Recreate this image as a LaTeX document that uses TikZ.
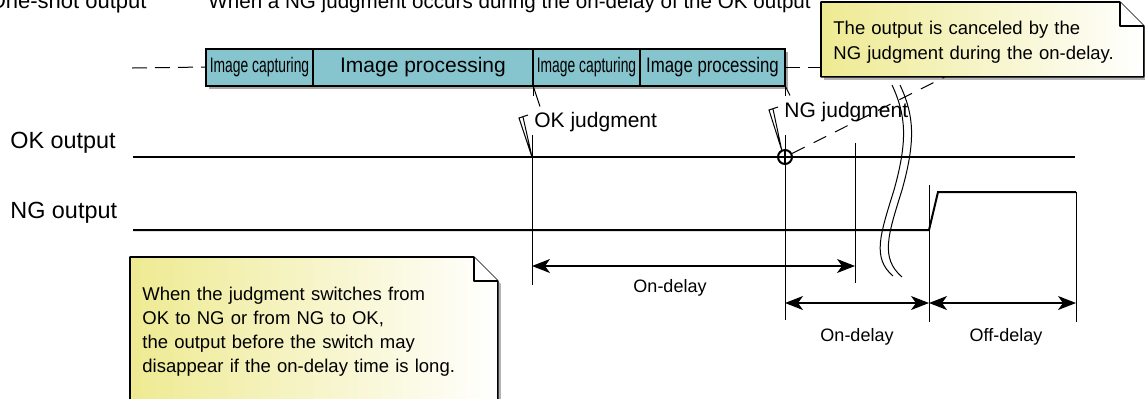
\documentclass[tikz,border=0pt]{standalone}
\usepackage{fontspec}
\setmainfont{Liberation Sans}
\newfontfamily\condfont[FakeStretch=0.66]{Liberation Sans}
\newfontfamily\semicondfont[FakeStretch=0.8]{Liberation Sans}
\usepackage{xcolor}
\usepackage{tikz}
\usetikzlibrary{positioning, arrows.meta, shadows, backgrounds}

\definecolor{procteal}{RGB}{134,196,206}
\definecolor{noteyellow}{RGB}{238,234,146}

\newcommand{\dognote}[2][0pt]{%
  \begin{scope}[on background layer]
    \path (#2.north west) coordinate (#2-nw)
          ([xshift=-12pt]#2.north east) coordinate (#2-fa)
          ([yshift=-12pt]#2.north east) coordinate (#2-fb)
          ([xshift=-12pt,yshift=-12pt]#2.north east) coordinate (#2-fc)
          ([yshift=-#1]#2.south east) coordinate (#2-se)
          ([yshift=-#1]#2.south west) coordinate (#2-sw);
    \fill[black!30] ([shift={(1.5pt,-1.5pt)}]#2-nw) -- ([shift={(1.5pt,-1.5pt)}]#2-fa)
          -- ([shift={(1.5pt,-1.5pt)}]#2-fb) -- ([shift={(1.5pt,-1.5pt)}]#2-se)
          -- ([shift={(1.5pt,-1.5pt)}]#2-sw) -- cycle;
    \shade[left color=noteyellow, right color=white]
          (#2-nw) -- (#2-fa) -- (#2-fb) -- (#2-se) -- (#2-sw) -- cycle;
    \draw[line width=0.8pt, line join=round]
          (#2-nw) -- (#2-fa) -- (#2-fb) -- (#2-se) -- (#2-sw) -- cycle;
    \filldraw[fill=white, line width=0.8pt, line join=round] (#2-fa) -- (#2-fc) -- (#2-fb);
  \end{scope}}

\begin{document}
\begin{tikzpicture}[
    x=0.5pt, y=-0.5pt,
    proc/.style={draw, line width=1pt, fill=procteal, minimum height=18.5pt,
                 inner sep=0pt, outer sep=0pt, font=\fontsize{10.5pt}{12pt}\selectfont,
                 drop shadow={shadow xshift=1.5pt, shadow yshift=-1.5pt, fill=black!35, opacity=1}},
    notebox/.style={align=left, inner xsep=6pt, inner ysep=0pt,
                    font=\fontsize{9.25pt}{12.5pt}\selectfont},
    ttl/.style={inner sep=0pt, font=\fontsize{10.3pt}{12pt}\selectfont},
    sig/.style={inner sep=0pt, font=\fontsize{11.7pt}{13pt}\selectfont},
    judge/.style={inner sep=0pt, font=\fontsize{10.5pt}{12pt}\selectfont},
    dimlbl/.style={inner sep=0pt, font=\fontsize{9pt}{11pt}\selectfont},
    sigln/.style={line width=1pt},
    thinln/.style={line width=0.5pt},
    dashln/.style={line width=0.5pt, dash pattern=on 7.5pt off 4pt},
    dimarr/.style={{Stealth[length=9pt,width=7pt,inset=2.5pt]}-{Stealth[length=9pt,width=7pt,inset=2.5pt]},
                   line width=0.6pt},
]
    \useasboundingbox (0,0) rectangle (1145,398);

    \node[ttl, font=\fontsize{11pt}{13pt}\selectfont, anchor=base east] (modettl) at (147,8) {One-shot output};
    \node[ttl, anchor=base west] (casettl) at (208,8) {When a NG judgment occurs during the on-delay of the OK output};

    \node[proc, minimum width=53.5pt, anchor=west] (cap1) at (206,67) {\condfont Image capturing};
    \node[proc, minimum width=110pt, right=0pt of cap1] (proc1) {Image processing};
    \node[proc, minimum width=53.5pt, right=0pt of proc1] (cap2) {\condfont Image capturing};
    \node[proc, minimum width=72.5pt, right=0pt of cap2] (proc2) {\semicondfont Image processing};

    \node[notebox, text width=149pt, minimum height=37pt, anchor=north west] (canclnote) at (821,2)
        {\rule{0pt}{10pt}The output is canceled by the\\NG judgment during the on-delay.};
    \node[notebox, font=\fontsize{9.25pt}{12pt}\selectfont, text width=171.5pt, inner ysep=15pt,
          anchor=north west] (switchnote) at (130,257)
        {When the judgment switches from\\OK to NG or from NG to OK,\\the output before the switch may\\disappear if the on-delay time is long.};
    \dognote{canclnote}
    \dognote[10pt]{switchnote}

    \coordinate (dashin) at (132,68);
    \draw[dashln] (dashin) -- (cap1.west);
    \draw[dashln] (proc2.east) -- (canclnote.west |- proc2.east);

    \node[sig, anchor=base west] (oklbl) at (10,148) {OK output};
    \node[sig, anchor=base west] (nglbl) at (10,218) {NG output};

    \coordinate (okstart) at (133,157);
    \coordinate (okpt) at (532,157);
    \coordinate (okend) at (1075,157);
    \coordinate (ngstart) at (133,230);
    \coordinate (ngrise) at (929,230);
    \coordinate (nghigh) at (938,192);
    \coordinate (ngoff) at (1076,192);

    \draw[sigln] (okstart) -- (okend);
    \draw[sigln] (ngstart) -- (ngrise) -- (nghigh) -- (ngoff);

    \draw[thinln] (532,135) -- (532,285);
    \draw[thinln] (785,135) -- (785,320);
    \draw[thinln] (855,143) -- (855,283);
    \draw[thinln] (929,185) -- (929,322);
    \draw[thinln] (ngoff) -- (1076,322);

    \node[circle, draw, line width=1pt, fill=white, minimum size=7pt, inner sep=0pt] (ngmark) at (785,157) {};
    \draw[line width=0.7pt, shorten <=1.2pt, shorten >=1.2pt] (ngmark.north) -- (ngmark.south);
    \draw[line width=0.7pt, shorten <=1.2pt, shorten >=1.2pt] (ngmark.west) -- (ngmark.east);

    \node[judge, anchor=base west] (okjudge) at (534,127) {OK judgment};
    \node[judge, anchor=base west] (ngjudge) at (784,117) {NG judgment};

    \draw[thinln] (cap2.south west) -- ++(0,10);
    \draw[thinln] (cap2.south west) -- ++(7,21);
    \draw[thinln] (proc2.south east) -- ++(0,10);
    \draw[thinln] (proc2.south east) -- ++(5,10);

    \draw[thinln] ([shift={(-6,-12)}]okjudge.base west) -- ([shift={(-15,-9)}]okjudge.base west)
        -- (okpt) -- ([shift={(-11,-10)}]okjudge.base west);
    \draw[thinln] ([shift={(-6,-10)}]ngjudge.base west) -- ([shift={(-15,-7)}]ngjudge.base west)
        -- (ngmark.115) -- ([shift={(-11,-8)}]ngjudge.base west);

    \coordinate (callpt) at ([xshift=62pt]canclnote.south west);
    \draw[thinln, dash pattern=on 7pt off 5pt] (ngmark) -- (callpt);

    \draw[thinln] (892,85) .. controls (906,115) and (908,140) .. (894,190)
        .. controls (880,235) and (872,258) .. (893,276);
    \draw[thinln] (900,85) .. controls (914,115) and (916,140) .. (902,190)
        .. controls (888,235) and (880,258) .. (902,277);

    \coordinate (on1a) at (532,266);
    \coordinate (on1b) at (855,266);
    \coordinate (on2a) at (785,303);
    \coordinate (on2b) at (929,303);
    \coordinate (off2b) at (1076,303);
    \draw[dimarr] (on1a) -- (on1b);
    \draw[dimarr] (on2a) -- (on2b);
    \draw[dimarr] (on2b) -- (off2b);
    \node[dimlbl] (ondly1) at (670,288) {On-delay};
    \node[dimlbl] (ondly2) at (857,337) {On-delay};
    \node[dimlbl] (offdly) at (1006,337) {Off-delay};
\end{tikzpicture}
\end{document}
